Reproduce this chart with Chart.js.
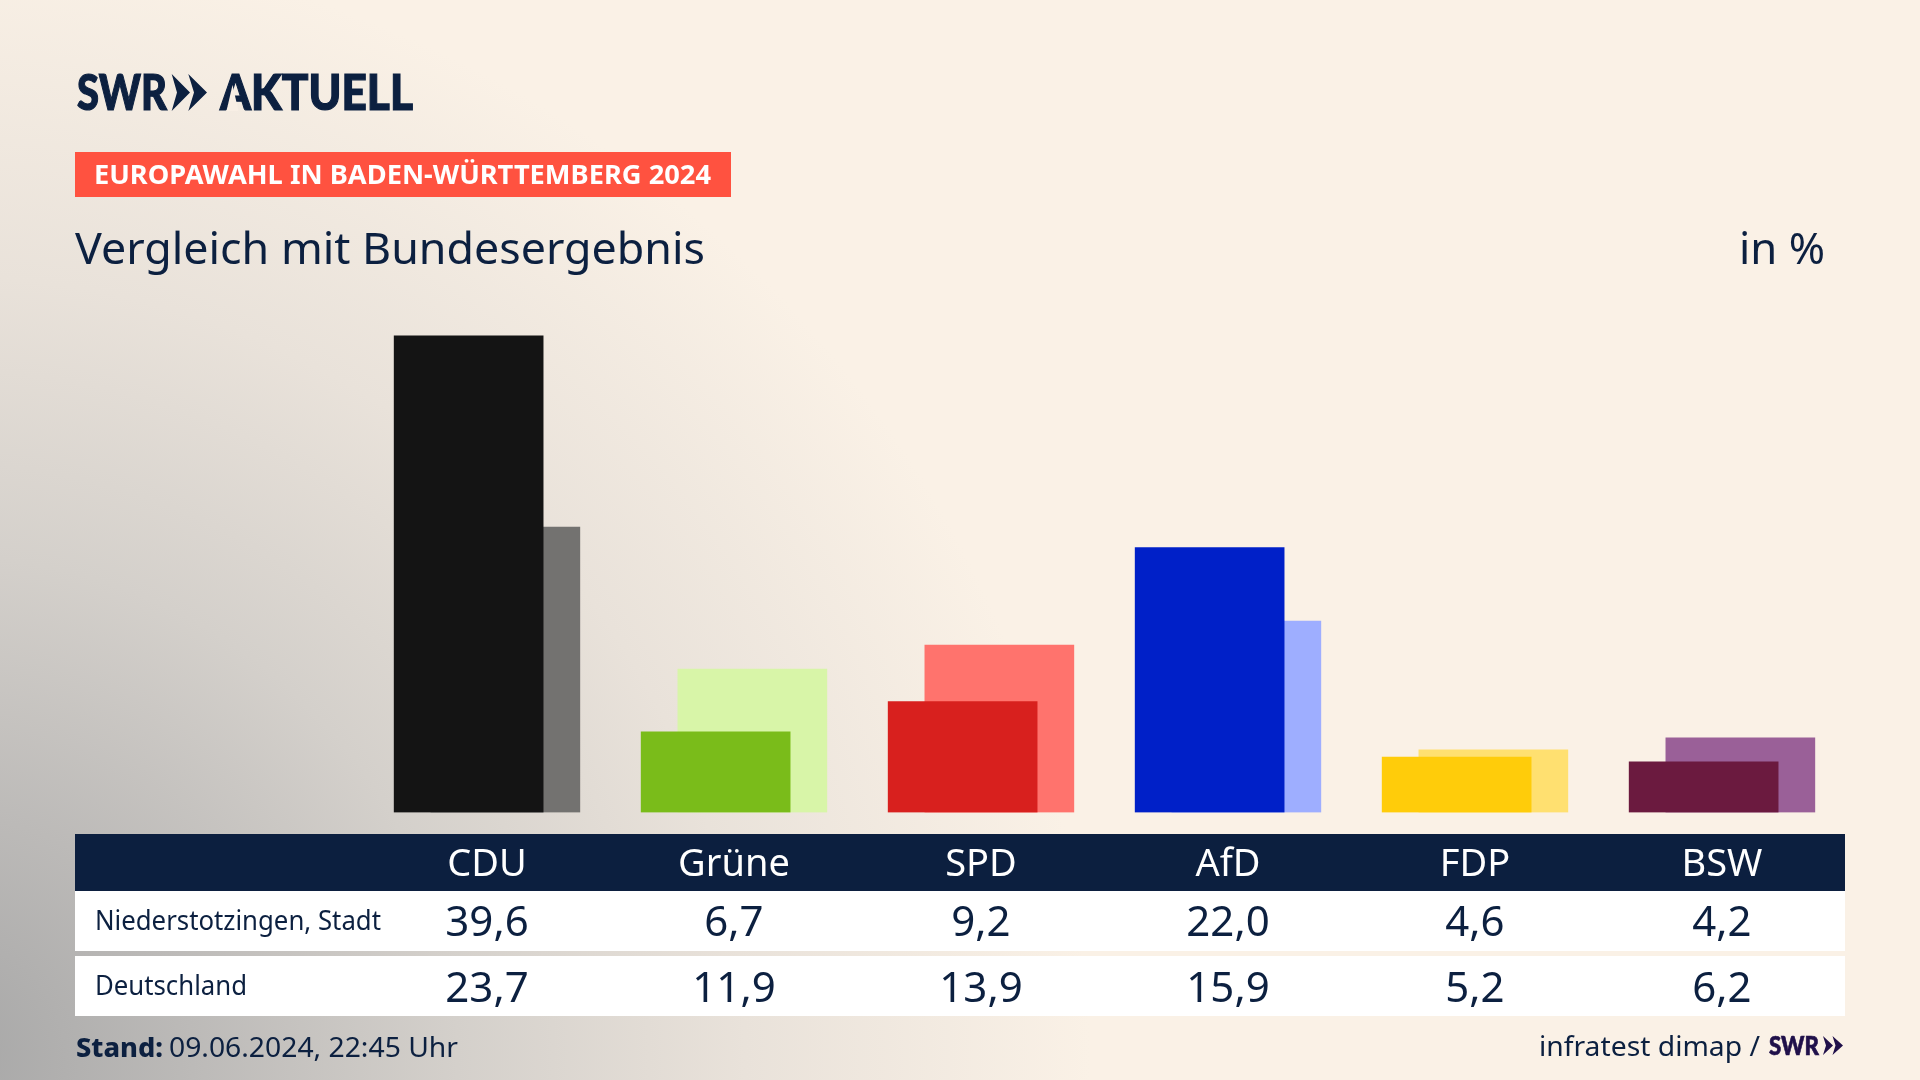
<!DOCTYPE html>
<html lang="de"><head><meta charset="utf-8">
<title>Europawahl</title>
<script src="https://cdn.jsdelivr.net/npm/chart.js@4"></script>
<style>
html,body{margin:0;padding:0;width:1920px;height:1080px;overflow:hidden}
body{position:relative;font-family:"Noto Sans",sans-serif;color:#0c2040;
background:radial-gradient(ellipse 1150px 1120px at -60px 1060px,#a6a6a6 0%,#bcbab8 22%,#d4d0cb 45%,#e9e2da 70%,#faf1e6 100%) #faf1e6}
.t{position:absolute;white-space:nowrap;transform-origin:0 0;line-height:1}
.box{position:absolute}
canvas{position:absolute;left:0;top:0;z-index:3}
</style></head><body>
<div class="box" style="left:75px;top:152px;width:656px;height:45px;background:#ff5240"></div>
<div class="box" style="left:75px;top:834px;width:1770px;height:57px;background:#0c1f3f"></div>
<div class="box" style="left:75px;top:891px;width:1770px;height:60px;background:#fff"></div>
<div class="box" style="left:75px;top:956px;width:1770px;height:60px;background:#fff"></div>
<div id="txt"></div>
<canvas id="c" width="1920" height="1080"></canvas>
<svg class="box" style="left:0;top:0;z-index:6" width="1920" height="1080">
<path fill="#0c2040" d="M171.700 74L190 92.500 171.700 111 177 92.500zM188.300 74L207 92.500 188.300 111 194 92.500z"/>
<path fill="#f8efe5" d="M232.500 85L238.500 111 226.500 111z"/>
<path fill="#20104a" d="M1823 1036L1833 1045.500 1823 1055 1826 1045.500zM1832.500 1036L1843 1045.500 1832.500 1055 1835.500 1045.500z"/>
</svg>
<script>
const parties=["CDU","Grüne","SPD","AfD","FDP","BSW"];
const localValues=[39.6,6.7,9.2,22.0,4.6,4.2];
const nationalValues=[23.7,11.9,13.9,15.9,5.2,6.2];
const rowLabels=["Niederstotzingen, Stadt","Deutschland"];
const localColors=["#141414","#7abc1a","#d8201e","#0020c8","#ffcc0a","#6b1a3f"];
const nationalColors=["#737270","#d8f5a8","#ff736d","#9eaeff","#ffe070","#9a6098"];
const family='"Noto Sans",sans-serif';
const shift=0.0743;
const chart=new Chart(document.getElementById('c'),{
 type:'bar',
 data:{labels:parties,datasets:[
  {label:rowLabels[0],data:localValues.map((v,i)=>({x:i-shift,y:v})),backgroundColor:localColors,barThickness:149,grouped:false,borderWidth:0},
  {label:rowLabels[1],data:nationalValues.map((v,i)=>({x:i+shift,y:v})),backgroundColor:nationalColors,barThickness:149,grouped:false,borderWidth:0}
 ]},
 options:{responsive:false,animation:false,devicePixelRatio:1,
  layout:{padding:{left:363.5,right:74.5,top:331,bottom:162}},
  plugins:{legend:{display:false},tooltip:{enabled:false},title:{display:false}},
  scales:{
   x:{type:'linear',min:-0.5,max:5.5,offset:false,grid:{display:false,drawTicks:false},border:{display:false},
      afterBuildTicks:s=>{s.ticks=parties.map((_,i)=>({value:i}));},
      ticks:{autoSkip:false,maxRotation:0,padding:30,color:'#ffffff',
             font:{family,size:38,lineHeight:1.2},callback:v=>parties[v]}},
   y:{min:0,max:40,display:false,grid:{display:false}}
  }
 }
});
const txt=document.getElementById('txt');
const metrics={noto:[1.069,0.293,'"Noto Sans",sans-serif'],lato:[0.987,0.213,'Lato,sans-serif']};
function put(s,x,base,size,opt={}){
 const d=document.createElement('div');d.className='t';d.textContent=s;
 const m=metrics[opt.f||'noto'];
 d.style.fontFamily=m[2];
 d.style.fontSize=size+'px';d.style.fontWeight=opt.w||400;d.style.color=opt.c||'#0c2040';d.style.zIndex=5;
 if(opt.stroke)d.style.webkitTextStroke=opt.stroke+'px '+(opt.c||'#0c2040');
 txt.appendChild(d);
 const asc=size*m[0], natural=d.getBoundingClientRect().width, lineBoxShift=(size-(m[0]+m[1])*size)/2;
 d.style.top=(base-asc-lineBoxShift)+'px';
 const sx=opt.width?opt.width/natural:1;
 const left=opt.center?x-natural*sx/2:x;
 d.style.left=left+'px';
 d.style.transform='scaleX('+sx+')';
}
put('SWR',77,110,49,{f:'lato',w:900,width:90,stroke:1.2});
put('AKTUELL',220,110,49,{f:'lato',w:900,width:193,stroke:1.2});
put('EUROPAWAHL IN BADEN-WÜRTTEMBERG 2024',94,184,26,{w:700,c:'#fff',width:617});
put('Vergleich mit Bundesergebnis',75,264,44,{width:630});
put('in %',1739,264,44,{width:86});
rowLabels.forEach((s,i)=>put(s,95,[930,995][i],27,{width:[286,152][i]}));
const xs=chart.scales.x;
[localValues,nationalValues].forEach((arr,r)=>arr.forEach((v,i)=>{
 put(v.toFixed(1).replace('.',','),xs.getPixelForValue(i),[936,1002][r],42,{center:true});
}));
put('Stand:',76,1057,27,{w:800,width:87});
put('09.06.2024, 22:45 Uhr',169,1057,27,{width:289});
put('infratest dimap /',1539,1056,28,{width:221});
put('SWR',1769,1055,27,{f:'lato',w:900,c:'#20104a',width:50,stroke:0.7});
</script>
</body></html>
